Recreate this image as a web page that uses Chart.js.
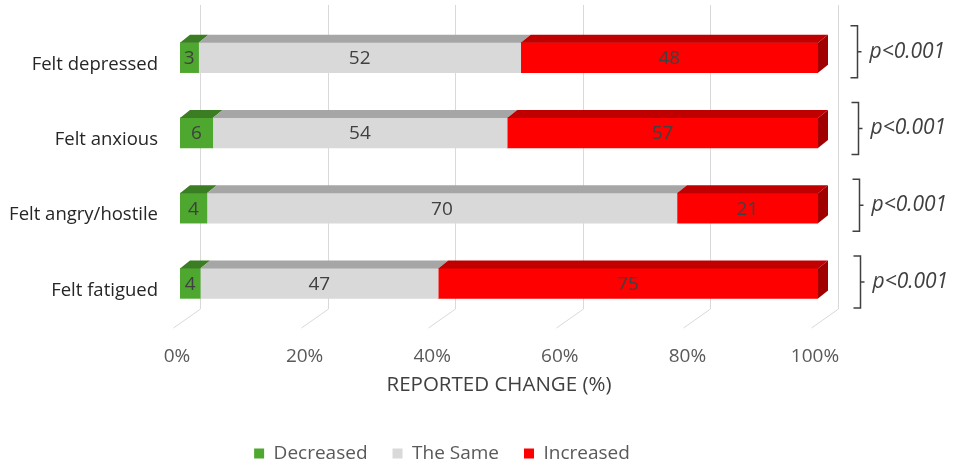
<!DOCTYPE html>
<html>
<head>
<meta charset="utf-8">
<script src="https://cdn.jsdelivr.net/npm/chart.js@4.4.1/dist/chart.umd.min.js"></script>
<style>
    body { margin: 0; background: #ffffff; }
</style>
</head>
<body>
<canvas id="changeChart" width="958" height="464"></canvas>
<script>
// Reported change, counts of respondents per item
const categories = ["Felt depressed", "Felt anxious", "Felt angry/hostile", "Felt fatigued"];
const decreased = [3, 6, 4, 4];
const theSame = [52, 54, 70, 47];
const increased = [48, 57, 21, 75];
const pValues = ["p<0.001", "p<0.001", "p<0.001", "p<0.001"];
const xTicks = [0, 20, 40, 60, 80, 100];

const FONT = "'Open Sans', sans-serif";
const DEPTH_X = 10;
const DEPTH_Y = -8;

// each bar is shown as a share of its row total
const totals = categories.map((c, i) => decreased[i] + theSame[i] + increased[i]);
const asPercent = (arr) => arr.map((v, i) => (v / totals[i]) * 100);

const seriesList = [
    { label: "Decreased", counts: decreased, front: "#4ea72e", top: "#3a7d22", side: "#2f6a1b" },
    { label: "The Same", counts: theSame, front: "#d9d9d9", top: "#a6a6a6", side: "#8c8c8c" },
    { label: "Increased", counts: increased, front: "#ff0000", top: "#c00000", side: "#a00000" },
];

// Floor, walls and the extruded faces of the bars
const bar3d = {
    id: "bar3d",
    beforeDatasetsDraw(chart) {
        const { ctx, scales } = chart;
        const x = scales.x;
        const area = chart.chartArea;
        ctx.save();
        ctx.strokeStyle = "#d9d9d9";
        ctx.lineWidth = 1;
        xTicks.forEach((v) => {
            const xb = Math.round(x.getPixelForValue(v)) + 20.5;
            ctx.beginPath();
            ctx.moveTo(xb, 5);
            ctx.lineTo(xb, area.bottom - 12);
            ctx.lineTo(xb - 27, area.bottom + 7);
            ctx.stroke();
        });
        ctx.restore();
    },
    afterDatasetsDraw(chart) {
        const { ctx } = chart;
        const last = chart.data.datasets.length - 1;
        ctx.save();
        chart.data.datasets.forEach((ds, di) => {
            const meta = chart.getDatasetMeta(di);
            meta.data.forEach((bar) => {
                const p = bar.getProps(["x", "y", "base", "height"], true);
                const x1 = Math.min(p.base, p.x);
                const x2 = Math.max(p.base, p.x);
                const top = p.y - p.height / 2;
                const bottom = p.y + p.height / 2;
                // top face
                ctx.fillStyle = seriesList[di].top;
                ctx.beginPath();
                ctx.moveTo(x1, top);
                ctx.lineTo(x2, top);
                ctx.lineTo(x2 + DEPTH_X, top + DEPTH_Y);
                ctx.lineTo(x1 + DEPTH_X, top + DEPTH_Y);
                ctx.closePath();
                ctx.fill();
                // right side only shows on the last segment
                if (di === last) {
                    ctx.fillStyle = seriesList[di].side;
                    ctx.beginPath();
                    ctx.moveTo(x2, top);
                    ctx.lineTo(x2 + DEPTH_X, top + DEPTH_Y);
                    ctx.lineTo(x2 + DEPTH_X, bottom + DEPTH_Y);
                    ctx.lineTo(x2, bottom);
                    ctx.closePath();
                    ctx.fill();
                }
            });
        });

        // count labels in the middle of each segment
        ctx.font = "19px " + FONT;
        ctx.fillStyle = "#404040";
        ctx.textAlign = "center";
        ctx.textBaseline = "middle";
        chart.data.datasets.forEach((ds, di) => {
            const meta = chart.getDatasetMeta(di);
            meta.data.forEach((bar, i) => {
                const p = bar.getProps(["x", "y", "base"], true);
                ctx.fillText(String(seriesList[di].counts[i]), (p.x + p.base) / 2, p.y + 1);
            });
        });

        // significance brackets on the right
        const y = chart.scales.y;
        ctx.strokeStyle = "#404040";
        ctx.lineWidth = 1.5;
        ctx.font = "italic 21px " + FONT;
        ctx.textAlign = "left";
        pValues.forEach((txt, i) => {
            const cy = y.getPixelForValue(i) - 6 + i * 1.5;
            const bx = chart.chartArea.right + 39.5 + i;
            ctx.beginPath();
            ctx.moveTo(bx - 7, cy - 26);
            ctx.lineTo(bx, cy - 26);
            ctx.lineTo(bx, cy + 26);
            ctx.lineTo(bx - 7, cy + 26);
            ctx.moveTo(bx, cy);
            ctx.lineTo(bx + 4, cy);
            ctx.stroke();
            ctx.fillText(txt, bx + 12, cy);
        });
        ctx.restore();
    },
};

const datasets = seriesList.map((s) => ({
    label: s.label,
    data: asPercent(s.counts),
    backgroundColor: s.front,
    borderWidth: 0,
    barThickness: 30,
}));

new Chart(document.getElementById("changeChart"), {
    type: "bar",
    data: { labels: categories, datasets: datasets },
    options: {
        indexAxis: "y",
        responsive: false,
        animation: false,
        layout: { padding: { top: 20, right: 74, left: 0, bottom: -9 } },
        scales: {
            x: {
                stacked: true,
                min: 0,
                max: 100,
                afterFit: (scale) => { scale.height = 98; },
                grid: { display: false },
                border: { display: false },
                ticks: {
                    stepSize: 20,
                    padding: 16,
                    labelOffset: -3,
                    color: "#595959",
                    font: { family: FONT, size: 19 },
                    callback: (v) => v + "%",
                },
                title: {
                    display: true,
                    text: "REPORTED CHANGE (%)",
                    color: "#404040",
                    font: { family: FONT, size: 20.5 },
                    padding: { top: 0, bottom: 22 },
                },
            },
            y: {
                stacked: true,
                afterFit: (scale) => {
                    scale.width = 180;
                    scale.paddingTop = 0;
                    scale.paddingBottom = 0;
                },
                grid: { display: false },
                border: { display: false },
                ticks: {
                    padding: 14,
                    labelOffset: 7,
                    color: "#262626",
                    font: { family: FONT, size: 18.5 },
                },
            },
            // empty right-hand strip that holds the p-value brackets
            yRight: {
                type: "category",
                position: "right",
                afterFit: (scale) => {
                    scale.width = 66;
                    scale.paddingTop = 0;
                    scale.paddingBottom = 0;
                },
                grid: { display: false },
                border: { display: false },
                ticks: { display: false },
            },
        },
        plugins: {
            legend: {
                position: "bottom",
                labels: {
                    boxWidth: 10,
                    boxHeight: 10,
                    padding: 25,
                    color: "#595959",
                    font: { family: FONT, size: 19 },
                },
            },
            tooltip: { enabled: false },
        },
    },
    plugins: [bar3d],
});
</script>
</body>
</html>
